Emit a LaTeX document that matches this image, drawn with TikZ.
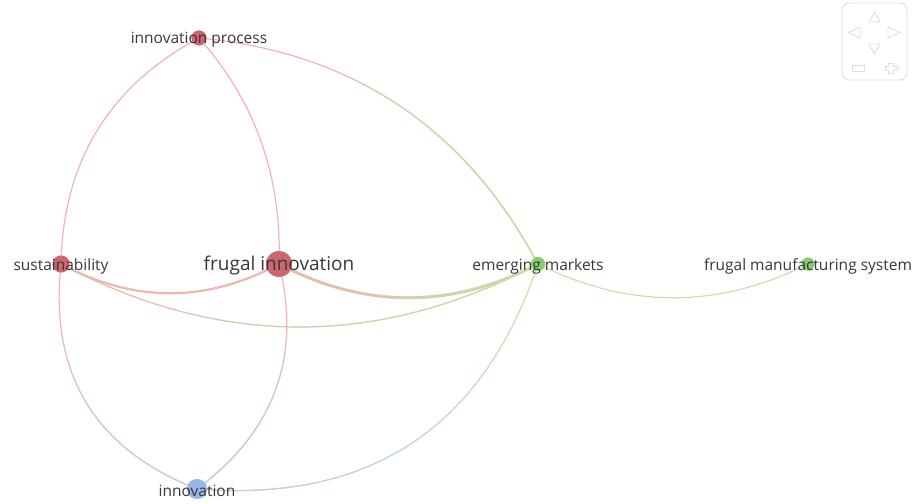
\documentclass[tikz,border=0pt]{standalone}
\usepackage{fontspec}
\setmainfont{Open Sans}
\usetikzlibrary{fadings}
\definecolor{redN}{RGB}{204,100,108}
\definecolor{greenN}{RGB}{132,204,112}
\definecolor{blueN}{RGB}{150,180,232}
\definecolor{redE}{RGB}{238,182,172}
\definecolor{greenE}{RGB}{190,230,170}
\definecolor{blueE}{RGB}{195,205,238}
\definecolor{txt}{RGB}{55,55,55}
\definecolor{navc}{RGB}{222,222,222}
\tikzfading[name=toB, left color=transparent!100, right color=transparent!0]
\tikzset{
  kw/.style={circle, inner sep=0pt, opacity=0.9},
  lbl/.style={text=txt, inner sep=0pt, yshift=-2pt, font=\fontsize{15.5}{18}\selectfont},
  biglbl/.style={text=txt, inner sep=0pt, yshift=-2pt, font=\fontsize{19}{22}\selectfont},
  edge/.style={line width=1.2pt},
  navline/.style={draw=navc, line width=0.9pt, line join=round}
}
\begin{document}
\begin{tikzpicture}[x=1pt,y=-1pt]
\useasboundingbox (0,0) rectangle (915,503);
% nodes (circles)
\node[kw, fill=redN, minimum size=15pt] (ip) at (199,38) {};
\node[kw, fill=redN, minimum size=17pt] (s) at (61,264) {};
\node[kw, fill=redN, minimum size=26pt] (fi) at (279,264) {};
\node[kw, fill=greenN, minimum size=14pt] (em) at (538,264) {};
\node[kw, fill=greenN, minimum size=13pt] (fms) at (808,264) {};
\node[kw, fill=blueN, minimum size=20pt] (inn) at (197,489) {};
% edges
\draw[edge, redE] (ip.center) .. controls +(-90,48) and +(2,-102) .. (s.center);
\draw[edge, redE] (ip.center) .. controls +(57,64) and +(3,-86) .. (fi.center);
\draw[edge, redE] (ip.center) .. controls +(153,14) and +(-72,-136) .. (em.center);
\draw[edge, greenE, path fading=toB, fading angle=-34] (ip.center) .. controls +(153,14) and +(-72,-136) .. (em.center);
\draw[line width=2.2pt, redE] (s.center) .. controls +(73,39) and +(-73,39) .. (fi.center);
\draw[edge, redE] (s.center) .. controls +(159,84) and +(-159,84) .. (em.center);
\draw[edge, greenE, path fading=toB] (s.center) .. controls +(159,84) and +(-159,84) .. (em.center);
\draw[line width=2.8pt, redE] (fi.center) .. controls +(86,45) and +(-86,45) .. (em.center);
\draw[line width=2.8pt, greenE, path fading=toB] (fi.center) .. controls +(86,45) and +(-86,45) .. (em.center);
\draw[edge, redE] (s.center) .. controls +(-12,110) and +(-102,-40) .. (inn.center);
\draw[edge, blueE, path fading=toB, fading angle=-59] (s.center) .. controls +(-12,110) and +(-102,-40) .. (inn.center);
\draw[edge, redE] (fi.center) .. controls +(23,93) and +(77,-57) .. (inn.center);
\draw[edge, blueE, path fading=toB, fading angle=-110] (fi.center) .. controls +(23,93) and +(77,-57) .. (inn.center);
\draw[edge, greenE] (em.center) .. controls +(-55,164) and +(173,14) .. (inn.center);
\draw[edge, blueE, path fading=toB, fading angle=-147] (em.center) .. controls +(-55,164) and +(173,14) .. (inn.center);
\draw[edge, greenE] (em.center) .. controls +(90,45) and +(-90,45) .. (fms.center);
% redraw circles on top
\node[kw, fill=redN, minimum size=15pt] (ip2) at (ip) {};
\node[kw, fill=redN, minimum size=17pt] (s2) at (s) {};
\node[kw, fill=redN, minimum size=26pt] (fi2) at (fi) {};
\node[kw, fill=greenN, minimum size=14pt] (em2) at (em) {};
\node[kw, fill=greenN, minimum size=13pt] (fms2) at (fms) {};
\node[kw, fill=blueN, minimum size=20pt] (inn2) at (inn) {};
% labels
\node[lbl] (ipL) at (ip) {innovation process};
\node[lbl] (sL) at (s) {sustainability};
\node[biglbl] (fiL) at (fi) {frugal innovation};
\node[lbl] (emL) at (em) {emerging markets};
\node[lbl] (fmsL) at (fms) {frugal manufacturing system};
\node[lbl] (innL) at (inn) {innovation};
% navigation widget
\draw[navline, rounded corners=7pt] (842,3) rectangle (907,80);
\draw[navline] (869,22) -- (874.5,12) -- (880,22) -- cycle;
\draw[navline] (860,27) -- (848,32.5) -- (860,38) -- cycle;
\draw[navline] (888,27) -- (900,32.5) -- (888,38) -- cycle;
\draw[navline] (869,44) -- (874.5,54) -- (880,44) -- cycle;
\draw[navline] (852,65) rectangle (864,71);
\draw[navline] (888.5,63) -- (893.5,63) -- (893.5,66) -- (897,66) -- (897,70) -- (893.5,70) -- (893.5,73) -- (888.5,73) -- (888.5,70) -- (885,70) -- (885,66) -- (888.5,66) -- cycle;
\end{tikzpicture}
\end{document}
